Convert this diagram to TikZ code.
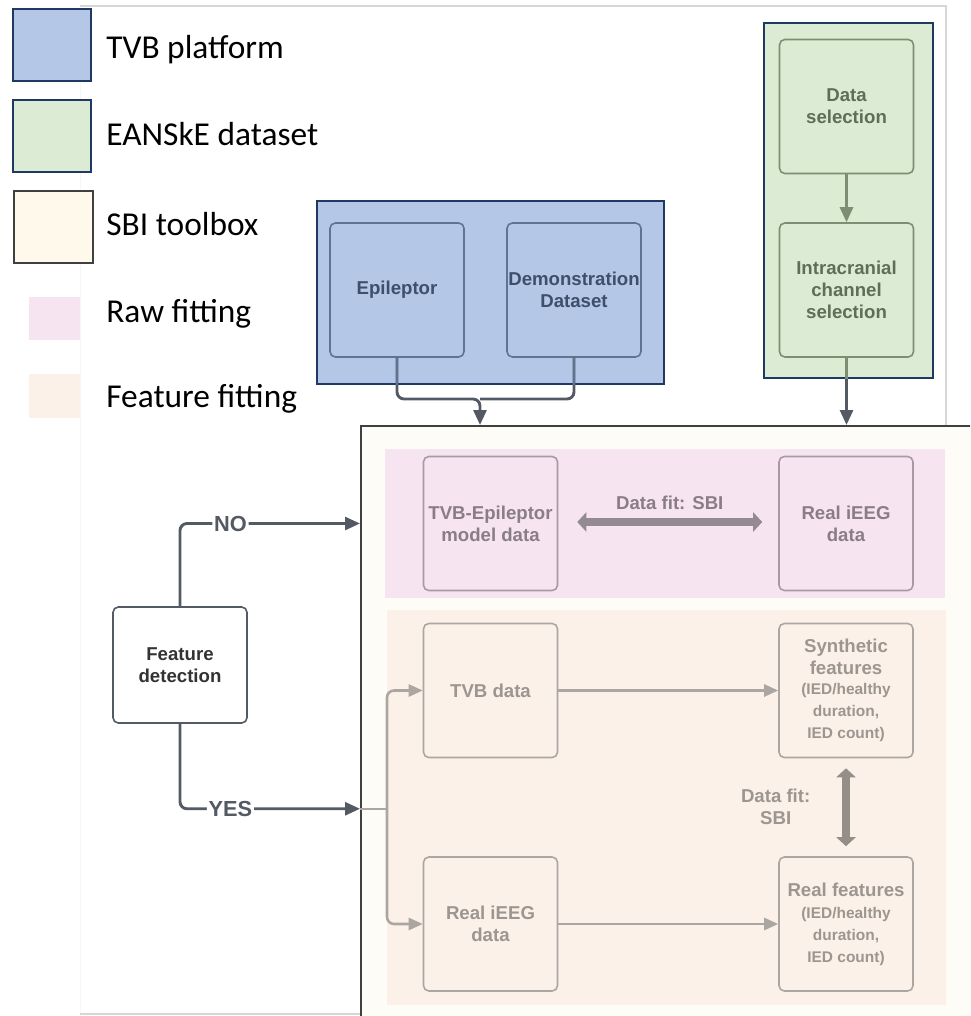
\documentclass[tikz,border=0pt]{standalone}
\usepackage{fontspec}
\setmainfont{Liberation Sans}
\newfontfamily\legendfont{Carlito}
\usetikzlibrary{arrows.meta,positioning,calc}
\definecolor{navy}{HTML}{203864}
\definecolor{tvbfill}{HTML}{B4C7E7}
\definecolor{tvbedge}{HTML}{5F7394}
\definecolor{tvbtext}{HTML}{3E4E6B}
\definecolor{eanfill}{HTML}{DCEBD3}
\definecolor{eanedge}{HTML}{7C8F74}
\definecolor{eantext}{HTML}{5E6E58}
\definecolor{sbifill}{HTML}{FEFCF6}
\definecolor{sbileg}{HTML}{FFF9EC}
\definecolor{sbiedge}{HTML}{404040}
\definecolor{rawfill}{HTML}{F6E5F1}
\definecolor{rawedge}{HTML}{A89AA5}
\definecolor{rawtext}{HTML}{8A7D86}
\definecolor{featfill}{HTML}{FCF1E8}
\definecolor{featedge}{HTML}{ACA6A2}
\definecolor{feattext}{HTML}{9C9590}
\definecolor{darkln}{HTML}{545A64}
\definecolor{frameln}{HTML}{D6D6D6}
\newcommand{\boxfont}{\bfseries\fontsize{10.6}{12.5}\selectfont}
\newcommand{\smallfont}{\bfseries\fontsize{8.8}{10.2}\selectfont}
\tikzset{
  legsq/.style={draw=navy,line width=1.1pt,anchor=north west,inner sep=0pt},
  leglab/.style={anchor=base west,inner sep=0pt,font=\legendfont\fontsize{19}{23}\selectfont},
  panel/.style={draw=navy,line width=1.1pt,anchor=north west,inner sep=0pt},
  region/.style={anchor=north west,inner sep=0pt},
  inbox/.style={rounded corners=3pt,line width=0.9pt,minimum width=2.68cm,minimum height=2.68cm,
    inner sep=0pt,align=center,font=\boxfont},
  tvbbox/.style={inbox,draw=tvbedge,fill=tvbfill,text=tvbtext},
  eanbox/.style={inbox,draw=eanedge,fill=eanfill,text=eantext},
  rawbox/.style={inbox,draw=rawedge,fill=rawfill,text=rawtext},
  featbox/.style={inbox,draw=featedge,fill=featfill,text=feattext},
  ar/.style={-{Triangle[length=0.3cm,width=0.26cm]},line width=1.65pt,draw=darkln,rounded corners=4pt},
  ln/.style={line width=1.65pt,draw=darkln,rounded corners=4pt},
  gar/.style={-{Triangle[length=0.28cm,width=0.24cm]},line width=1.45pt,draw=featedge,rounded corners=4pt},
  fitar/.style={{Triangle[length=0.18cm,width=0.38cm]}-{Triangle[length=0.18cm,width=0.38cm]},line width=4.2pt},
  lbl/.style={fill=white,inner sep=1pt,text=darkln,font=\bfseries\fontsize{12.4}{14}\selectfont},
}
\begin{document}
\begin{tikzpicture}[x=0.02cm,y=-0.02cm]
\useasboundingbox (0,0) rectangle (970,1016);
\clip (0,0) rectangle (970,1016);
% frame of the screenshot
\draw[draw=black!3,line width=0.5pt] (80,1016) -- (80,6);
\draw[draw=frameln,line width=0.8pt] (80,6) -- (946,6) -- (946,425);
\draw[draw=frameln,line width=0.8pt] (80,1014) -- (970,1014);

% legend
\node[legsq,fill=tvbfill,minimum width=1.56cm,minimum height=1.44cm] (lg1) at (12,8) {};
\node[legsq,fill=eanfill,minimum width=1.56cm,minimum height=1.44cm] (lg2) at (12,99) {};
\node[legsq,draw=sbiedge,fill=sbileg,minimum width=1.58cm,minimum height=1.44cm] (lg3) at (13,190) {};
\node[legsq,draw=none,fill=rawfill,minimum width=1.02cm,minimum height=0.86cm] (lg4) at (28,296) {};
\node[legsq,draw=none,fill=featfill,minimum width=1.02cm,minimum height=0.88cm] (lg5) at (28,373) {};
\node[leglab] (t1) at (106,59) {TVB platform};
\node[leglab] (t2) at (106,146) {EANSkE dataset};
\node[leglab] (t3) at (106,236) {SBI toolbox};
\node[leglab] (t4) at (106,323) {Raw fitting};
\node[leglab] (t5) at (106,407) {Feature fitting};

% SBI toolbox and fitting regions
\node[region,draw=sbiedge,line width=1.1pt,fill=sbifill,minimum width=13cm,minimum height=13cm] (sbi) at (360,425) {};
\node[region,fill=rawfill,minimum width=11.2cm,minimum height=2.98cm] (raw) at (385,449) {};
\node[region,fill=featfill,minimum width=11.18cm,minimum height=7.9cm] (feat) at (387,610) {};

% TVB platform
\node[panel,fill=tvbfill,minimum width=6.94cm,minimum height=3.66cm] (tvb) at (316,200) {};
\node[tvbbox] (epi) at (397,290) {Epileptor};
\node[tvbbox] (demo) at (574,290) {Demonstration\\Dataset};

% EANSkE dataset
\node[panel,fill=eanfill,minimum width=3.38cm,minimum height=7.1cm] (ean) at (763,22) {};
\node[eanbox] (datasel) at (846.5,106.5) {Data\\selection};
\node[eanbox] (chansel) at (846.5,290) {Intracranial\\channel\\selection};

% raw fitting
\node[rawbox] (tvbmod) at (490.5,523.5) {TVB-Epileptor\\model data};
\node[rawbox] (rawreal) at (846,523.5) {Real iEEG\\data};

% feature fitting
\node[featbox] (tvbdata) at (490.5,690.5) {TVB data};
\node[featbox] (synfeat) at (846,690.5) {Synthetic\\features\\[-1pt]\smallfont(IED/healthy\\\smallfont duration,\\\smallfont IED count)};
\node[featbox] (realdata) at (490.5,924) {Real iEEG\\data};
\node[featbox] (realfeat) at (846,924) {Real features\\\smallfont(IED/healthy\\\smallfont duration,\\\smallfont IED count)};

\node[inbox,draw=darkln,fill=white,text=black!80,minimum height=2.32cm] (featdet) at (180,665) {Feature\\detection};

% connectors
\coordinate (merge) at (480,399);
\draw[ar] (epi.south) |- (merge) -- (merge |- sbi.north);
\draw[ln] (demo.south) |- (merge);
\draw[line width=1.65pt,draw=tvbedge] (epi.south) -- (epi.south |- tvb.south);
\draw[line width=1.65pt,draw=tvbedge] (demo.south) -- (demo.south |- tvb.south);
\draw[ar,draw=eanedge] (datasel) -- (chansel);
\draw[ar] (chansel.south) -- (chansel.south |- sbi.north);
\draw[line width=1.65pt,draw=eanedge] (chansel.south) -- (chansel.south |- ean.south);

\draw[ar] (featdet.north) |- (sbi.west |- tvbmod) node[pos=0.64,lbl] {NO};
\coordinate (yesin) at ($(sbi.west |- featdet.south)+(0,85)$);
\draw[ar] (featdet.south) |- (yesin) node[pos=0.64,lbl] {YES};
\draw[line width=1.45pt,draw=featedge] (yesin) -- ++(27,0) coordinate (split);
\draw[gar] (split) |- (tvbdata.west);
\draw[gar] (split) |- (realdata.west);
\draw[gar] (tvbdata) -- (synfeat);
\draw[gar] (realdata) -- (realfeat);

\draw[fitar,draw=rawtext!90] ([xshift=0.38cm,yshift=0.03cm]tvbmod.east) -- ([xshift=-0.32cm,yshift=0.03cm]rawreal.west)
  node[midway,yshift=0.38cm,text=rawtext,font=\boxfont] (fitraw) {Data fit: SBI};
\draw[fitar,draw=feattext!95!black] ([yshift=-0.2cm]synfeat.south) -- ([yshift=0.2cm]realfeat.north)
  node[midway,left=0.64cm,inner sep=0pt,align=center,text=feattext,font=\boxfont] (fitfeat) {Data fit:\\SBI};
\end{tikzpicture}
\end{document}
